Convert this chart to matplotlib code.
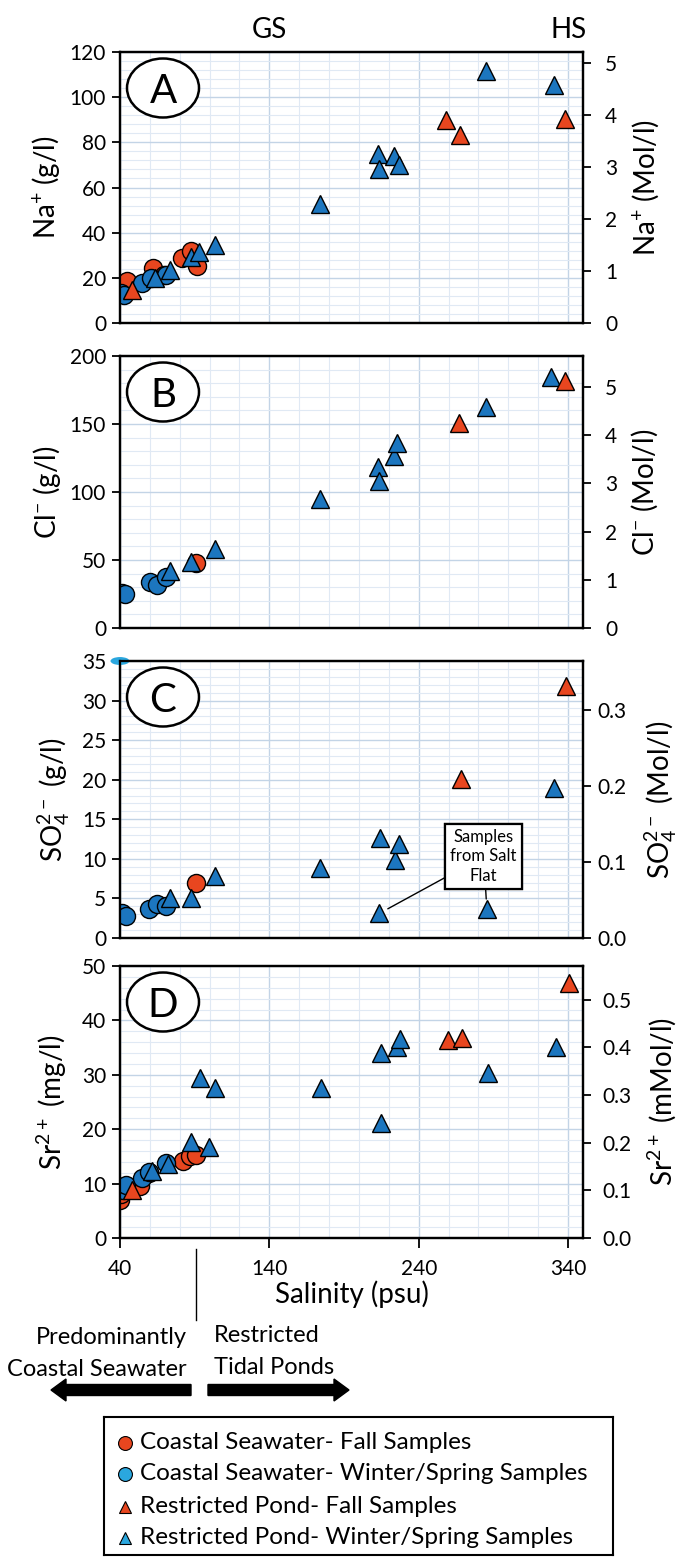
import matplotlib
matplotlib.use('Agg')
import matplotlib.pyplot as plt
import matplotlib.patches as mpatches
import matplotlib.transforms as mtransforms
from matplotlib.ticker import MultipleLocator, FixedLocator, FormatStrFormatter

plt.rcParams['font.family'] = ['Lato', 'DejaVu Sans']
plt.rcParams['mathtext.default'] = 'regular'

RED = '#e8461f'
BLUE = '#1c76bf'
LIGHT_BLUE = '#2aa7df'

# ---- A: Na+ (g/l) vs salinity (psu)
na_cs_fall_x = [42.0, 44.9, 62.3, 69.5, 81.7, 87.7, 91.8]
na_cs_fall_y = [13.3, 18.5, 24.4, 21.4, 28.8, 31.7, 25.1]
na_cs_wint_x = [40.6, 42.9, 55.0, 60.8, 71.0]
na_cs_wint_y = [13.3, 12.5, 17.7, 19.9, 21.4]
na_rp_fall_x = [47.8, 258.4, 267.7, 338.0]
na_rp_fall_y = [14.8, 89.7, 83.4, 90.5]
na_rp_wint_x = [63.7, 73.3, 87.7, 93.2, 103.6, 173.6, 212.7, 213.3, 223.4, 226.6, 285.0, 330.4]
na_rp_wint_y = [19.9, 23.6, 29.2, 31.4, 34.4, 52.8, 74.8, 68.2, 73.8, 70.1, 111.7, 105.5]

# ---- B: Cl- (g/l)
cl_cs_fall_x = [91.2]
cl_cs_fall_y = [48.0]
cl_cs_wint_x = [41.4, 43.5, 60.0, 64.6, 71.0]
cl_cs_wint_y = [26.0, 25.2, 33.8, 31.9, 37.5]
cl_rp_fall_x = [267.1, 337.7]
cl_rp_fall_y = [151.0, 181.6]
cl_rp_wint_x = [73.3, 87.4, 103.6, 173.6, 212.7, 213.3, 223.7, 225.7, 285.0, 328.4]
cl_rp_wint_y = [41.9, 48.5, 58.3, 95.1, 118.4, 108.1, 126.2, 136.0, 162.5, 184.6]

# ---- C: SO4 2- (g/l)
so4_cs_fall_x = [91.2]
so4_cs_fall_y = [7.0]
so4_cs_wint_x = [41.4, 44.0, 59.4, 64.6, 71.0]
so4_cs_wint_y = [3.1, 2.8, 3.7, 4.3, 4.0]
so4_rp_fall_x = [268.2, 338.8]
so4_rp_fall_y = [20.1, 31.8]
so4_rp_wint_x = [73.3, 87.4, 103.6, 173.6, 213.6, 214.1, 224.3, 226.6, 285.6, 330.4]
so4_rp_wint_y = [5.1, 5.0, 7.8, 8.8, 3.1, 12.6, 9.8, 11.9, 3.7, 18.9]
salt_flat_idx = [4, 8]  # samples from the salt flat (in so4_rp_wint)
stray_mark = (40, 35)   # small blue blob at the top-left corner of C

# ---- D: Sr2+ (mg/l)
sr_cs_fall_x = [40.0, 40.6, 53.6, 59.4, 81.9, 86.9, 91.2]
sr_cs_fall_y = [7.0, 8.0, 9.5, 11.9, 14.1, 15.0, 15.3]
sr_cs_wint_x = [42.0, 44.3, 55.0, 59.4, 71.0]
sr_cs_wint_y = [8.9, 9.7, 11.0, 12.2, 13.8]
sr_rp_fall_x = [47.8, 259.6, 269.1, 340.8]
sr_rp_fall_y = [8.9, 36.4, 36.8, 46.9]
sr_rp_wint_x = [61.7, 72.4, 87.4, 93.5, 99.9, 103.6, 174.5, 214.7, 214.7, 225.7, 227.2, 286.5, 332.2]
sr_rp_wint_y = [12.4, 13.6, 17.7, 29.4, 16.8, 27.5, 27.5, 34.0, 21.1, 35.1, 36.6, 30.3, 35.1]

x_ticks = [40, 140, 240, 340]
legend_labels = ['Coastal Seawater- Fall Samples',
                 'Coastal Seawater- Winter/Spring Samples',
                 'Restricted Pond- Fall Samples',
                 'Restricted Pond- Winter/Spring Samples']

# panel settings: letter, data, ymax, ymajor, molar mass, right major, right fmt, labels
panels = [
    dict(letter='A', data=(na_cs_fall_x, na_cs_fall_y, na_cs_wint_x, na_cs_wint_y,
                           na_rp_fall_x, na_rp_fall_y, na_rp_wint_x, na_rp_wint_y),
         ymax=120, ymajor=20, molar=22.99, rmajor=1, rfmt='%d',
         lab_l='Na$^{+}$ (g/l)', lab_r='Na$^{+}$ (Mol/l)', px=(52, 323), lx=(46, 646), rpad=10),
    dict(letter='B', data=(cl_cs_fall_x, cl_cs_fall_y, cl_cs_wint_x, cl_cs_wint_y,
                           cl_rp_fall_x, cl_rp_fall_y, cl_rp_wint_x, cl_rp_wint_y),
         ymax=200, ymajor=50, molar=35.45, rmajor=1, rfmt='%d',
         lab_l='Cl$^{-}$ (g/l)', lab_r='Cl$^{-}$ (Mol/l)', px=(356, 628), lx=(47, 645), rpad=10),
    dict(letter='C', data=(so4_cs_fall_x, so4_cs_fall_y, so4_cs_wint_x, so4_cs_wint_y,
                           so4_rp_fall_x, so4_rp_fall_y, so4_rp_wint_x, so4_rp_wint_y),
         ymax=35, ymajor=5, molar=96.06, rmajor=0.1, rfmt='%.1f',
         lab_l='SO$_4^{2-}$ (g/l)', lab_r='SO$_4^{2-}$ (Mol/l)', px=(661, 938), lx=(54, 661), rpad=4),
    dict(letter='D', data=(sr_cs_fall_x, sr_cs_fall_y, sr_cs_wint_x, sr_cs_wint_y,
                           sr_rp_fall_x, sr_rp_fall_y, sr_rp_wint_x, sr_rp_wint_y),
         ymax=50, ymajor=10, molar=87.62, rmajor=0.1, rfmt='%.1f',
         lab_l='Sr$^{2+}$ (mg/l)', lab_r='Sr$^{2+}$ (mMol/l)', px=(966, 1238), lx=(52, 662), rpad=8),
]

W, H = 678, 1560
fig = plt.figure(figsize=(W / 100, H / 100), dpi=100)
fig.patch.set_facecolor('white')
LEFT, RIGHT = 120, 583

axes = []
for p in panels:
    top, bottom = p['px']
    ax = fig.add_axes([LEFT / W, 1 - bottom / H, (RIGHT - LEFT) / W, (bottom - top) / H])
    ax.set_xlim(40, 350)
    ax.set_ylim(0, p['ymax'])
    ax.xaxis.set_major_locator(FixedLocator(x_ticks))
    ax.xaxis.set_minor_locator(MultipleLocator(20))
    ax.yaxis.set_major_locator(MultipleLocator(p['ymajor']))
    ax.yaxis.set_minor_locator(MultipleLocator(p['ymajor'] / 5))
    ax.grid(which='major', color='#c3d4e6', lw=1.0)
    ax.grid(which='minor', color='#e0e9f4', lw=0.8)
    ax.set_axisbelow(True)
    ax.tick_params(which='minor', length=0)
    ax.tick_params(axis='y', which='major', direction='out', length=6, width=1.3, pad=4, labelsize=15)
    ax.tick_params(axis='x', which='major', length=0, labelbottom=False)

    cfx, cfy, cwx, cwy, rfx, rfy, rwx, rwy = p['data']
    ax.plot(cfx, cfy, 'o', ms=13, mfc=RED, mec='k', mew=1, ls='none', zorder=3)
    ax.plot(cwx, cwy, 'o', ms=13, mfc=BLUE, mec='k', mew=1, ls='none', zorder=3)
    ax.plot(rwx, rwy, '^', ms=13, mfc=BLUE, mec='k', mew=1, ls='none', zorder=4)
    ax.plot(rfx, rfy, '^', ms=13, mfc=RED, mec='k', mew=1, ls='none', zorder=4)

    # panel letter in an ellipse
    h_ax = bottom - top
    cy = 1 - 36 / h_ax
    ax.add_patch(mpatches.Ellipse((43 / 463, cy), 72 / 463, 59 / h_ax, transform=ax.transAxes,
                                  fc='white', ec='black', lw=1.8, zorder=5))
    ax.text(43 / 463, cy, p['letter'], transform=ax.transAxes, ha='center', va='center_baseline',
            fontsize=29, zorder=6)

    ax2 = ax.twinx()
    ax2.set_ylim(0, p['ymax'] / p['molar'])
    ax2.yaxis.set_major_locator(MultipleLocator(p['rmajor']))
    ax2.yaxis.set_major_formatter(FormatStrFormatter(p['rfmt']))
    ax2.tick_params(axis='y', direction='out', length=6, width=1.3, pad=p['rpad'], labelsize=15)

    for a in (ax, ax2):
        for s in a.spines.values():
            s.set_linewidth(1.6)
            s.set_color('black')

    ycen = 1 - (top + bottom) / 2 / H
    fig.text(p['lx'][0] / W, ycen, p['lab_l'], rotation=90, ha='center', va='center', fontsize=20)
    fig.text(p['lx'][1] / W, ycen, p['lab_r'], rotation=90, ha='center', va='center', fontsize=20)
    axes.append(ax)

ax_a, ax_b, ax_c, ax_d = axes

# GS / HS headers
hdr = mtransforms.blended_transform_factory(ax_a.transData, ax_a.transAxes)
ax_a.text(140, 1.081, 'GS', transform=hdr, ha='center', va='center', fontsize=20)
ax_a.text(340, 1.081, 'HS', transform=hdr, ha='center', va='center', fontsize=20)

# salt flat callout in C
for i in salt_flat_idx:
    ax_c.annotate('Samples\nfrom Salt\nFlat', xy=(so4_rp_wint_x[i], so4_rp_wint_y[i]), xytext=(283.5, 10.3),
                  ha='center', va='center', fontsize=12, linespacing=1.25, zorder=7,
                  bbox=dict(boxstyle='square,pad=0.3', fc='white', ec='black', lw=1.6),
                  arrowprops=dict(arrowstyle='-', lw=1.0, color='black', shrinkA=0, shrinkB=7))

ax_c.add_patch(mpatches.Ellipse(stray_mark, 12.7, 1.0, fc=LIGHT_BLUE, ec='none', clip_on=False, zorder=8))

# bottom x axis of D
ax_d.tick_params(axis='x', which='major', length=7, width=1.3, direction='out', pad=8,
                 labelbottom=True, labelsize=15)
ax_d.set_xlabel('Salinity (psu)', fontsize=20)
ax_d.xaxis.set_label_coords(0.5, -0.155)

# divider between coastal seawater and ponds
bt = mtransforms.blended_transform_factory(ax_d.transData, ax_d.transAxes)
ax_d.plot([91, 91], [-0.04, -0.30], transform=bt, color='black', lw=1.0, clip_on=False)

fig.text(187 / W, 1 - 1338 / H, 'Predominantly', ha='right', va='center', fontsize=17)
fig.text(187 / W, 1 - 1369 / H, 'Coastal Seawater', ha='right', va='center', fontsize=17)
fig.text(214 / W, 1 - 1336 / H, 'Restricted', ha='left', va='center', fontsize=17)
fig.text(214 / W, 1 - 1367 / H, 'Tidal Ponds', ha='left', va='center', fontsize=17)

yin = (H - 1390) / 100
fig.add_artist(mpatches.FancyArrow(191 / 100, yin, -140 / 100, 0, width=0.11, head_width=0.22,
                                   head_length=0.15, length_includes_head=True,
                                   transform=fig.dpi_scale_trans, color='black'))
fig.add_artist(mpatches.FancyArrow(208 / 100, yin, 141 / 100, 0, width=0.11, head_width=0.22,
                                   head_length=0.15, length_includes_head=True,
                                   transform=fig.dpi_scale_trans, color='black'))

# legend box
ax_l = fig.add_axes([104 / W, 1 - 1555 / H, (613 - 104) / W, (1555 - 1417) / H])
ax_l.set_xlim(104, 613)
ax_l.set_ylim(1555, 1417)
ax_l.set_xticks([])
ax_l.set_yticks([])
for s in ax_l.spines.values():
    s.set_linewidth(1.5)
leg_marks = [('o', RED, 10), ('o', LIGHT_BLUE, 10), ('^', RED, 9), ('^', LIGHT_BLUE, 9)]
leg_rows = [1443, 1474, 1507, 1538]
for (m, c, ms), yrow, lab in zip(leg_marks, leg_rows, legend_labels):
    ax_l.plot([125], [yrow], m, ms=ms, mfc=c, mec='k', mew=0.8)
    ax_l.text(140, yrow, lab, ha='left', va='center', fontsize=17.5)

fig.savefig('out.png', dpi=100, facecolor='white')
